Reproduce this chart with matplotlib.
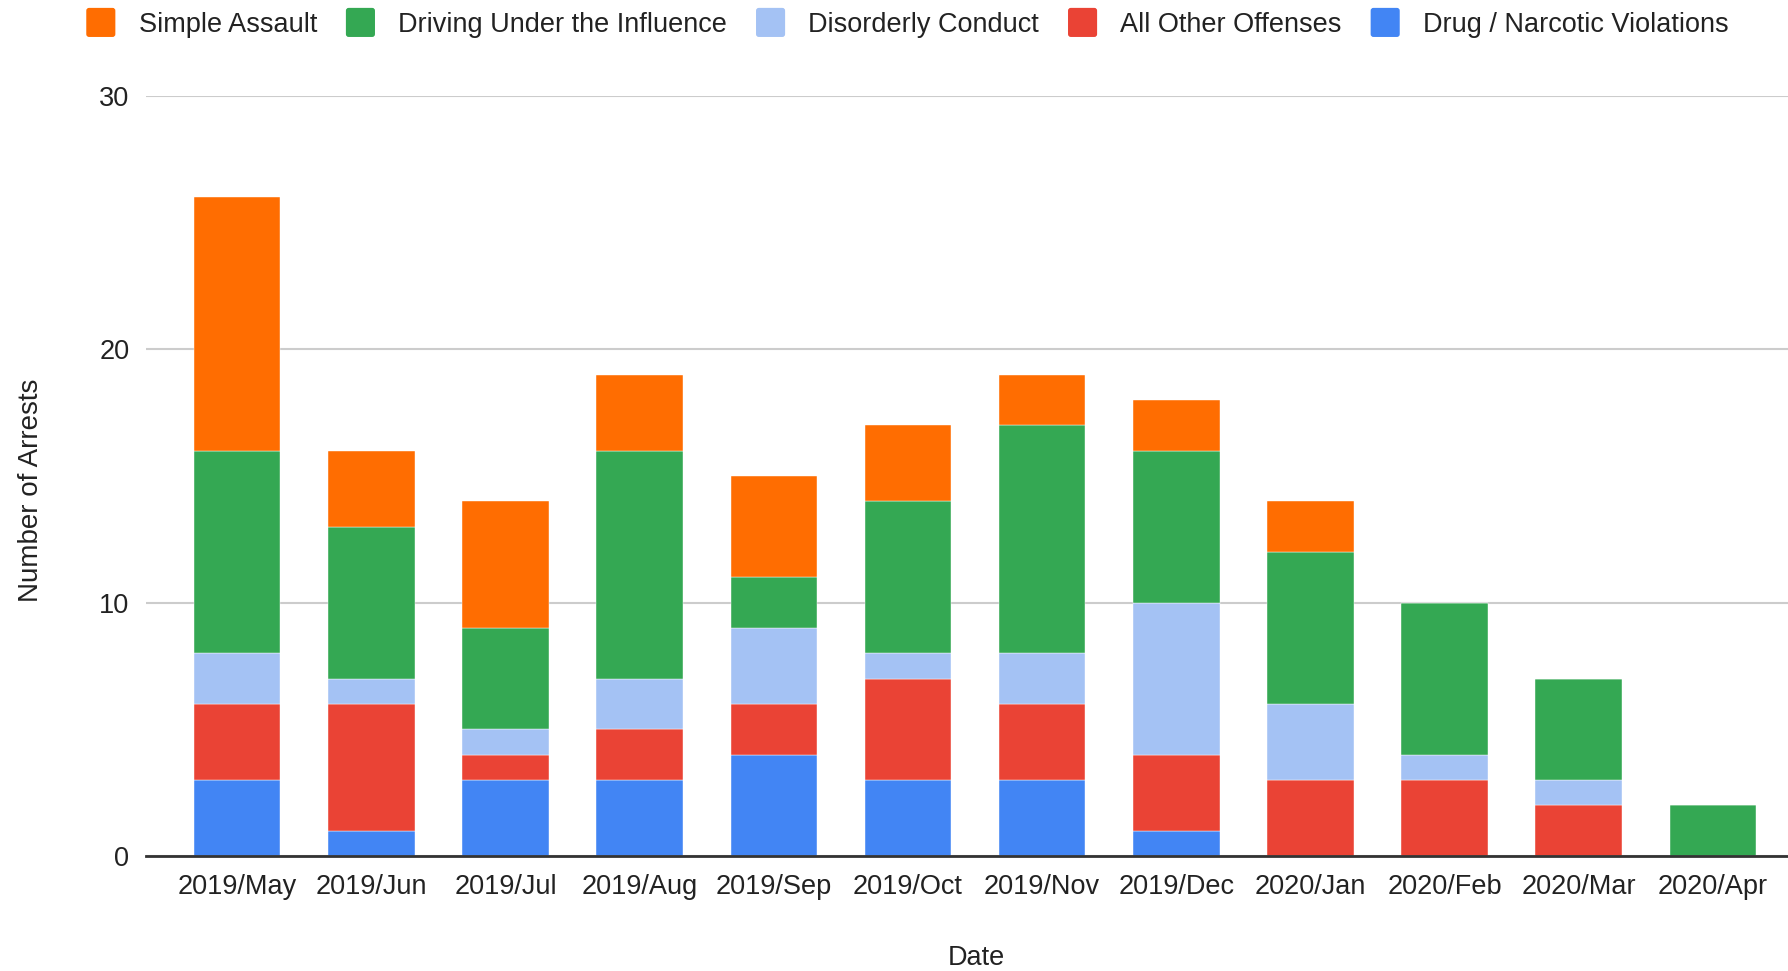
import matplotlib
matplotlib.use("Agg")
import matplotlib.pyplot as plt
import numpy as np
from matplotlib.patches import FancyBboxPatch
from matplotlib.legend_handler import HandlerPatch

plt.rcParams['font.family'] = ['Liberation Sans', 'DejaVu Sans']

months = ["2019/May", "2019/Jun", "2019/Jul", "2019/Aug", "2019/Sep", "2019/Oct",
          "2019/Nov", "2019/Dec", "2020/Jan", "2020/Feb", "2020/Mar", "2020/Apr"]
drug = [3, 1, 3, 3, 4, 3, 3, 1, 0, 0, 0, 0]
other = [3, 5, 1, 2, 2, 4, 3, 3, 3, 3, 2, 0]
disorderly = [2, 1, 1, 2, 3, 1, 2, 6, 3, 1, 1, 0]
dui = [8, 6, 4, 9, 2, 6, 9, 6, 6, 6, 4, 2]
assault = [10, 3, 5, 3, 4, 3, 2, 2, 2, 0, 0, 0]

series = [
    ("Drug / Narcotic Violations", drug, "#4285F4"),
    ("All Other Offenses", other, "#EA4335"),
    ("Disorderly Conduct", disorderly, "#A4C2F4"),
    ("Driving Under the Influence", dui, "#34A853"),
    ("Simple Assault", assault, "#FF6D01"),
]

FS = 19.5
W, H = 1788, 971
fig = plt.figure(figsize=(W / 100, H / 100), dpi=100)
ax = fig.add_axes([146 / W, 1 - 856 / H, (W - 146) / W, (856 - 96) / H])

x = np.arange(len(months))
bottom = np.zeros(len(months))
handles = {}
for name, vals, color in series:
    b = ax.bar(x, vals, width=0.645, bottom=bottom, color=color, linewidth=0.3,
               edgecolor="white", label=name, zorder=3)
    handles[name] = b
    bottom += np.array(vals)

ax.set_ylim(0, 30)
ax.set_xlim(-0.68, 11.56)
ax.set_yticks([0, 10, 20, 30])
ax.set_xticks(x)
ax.set_xticklabels(months)
ax.tick_params(axis='both', length=0, labelsize=FS, colors="#222222")
ax.tick_params(axis='y', pad=12)
ax.tick_params(axis='x', pad=13)
ax.grid(axis='y', color="#cccccc", linewidth=1.5, zorder=0)
for s in ["top", "right", "left"]:
    ax.spines[s].set_visible(False)
ax.spines["bottom"].set_color("#333333")
ax.spines["bottom"].set_linewidth(2)
ax.spines["bottom"].set_zorder(4)

fig.text(31 / W, 1 - 490 / H, "Number of Arrests", rotation=90, ha="center",
         va="center", fontsize=FS + 0.5, color="#222222")
fig.text(976 / W, 1 - 958 / H, "Date", ha="center", va="center", fontsize=FS,
         color="#222222")

class RoundHandler(HandlerPatch):
    def create_artists(self, legend, orig_handle, xdescent, ydescent, width,
                       height, fontsize, trans):
        c = orig_handle.patches[0].get_facecolor()
        s = min(width, height) * 1.2
        p = FancyBboxPatch((-xdescent + (width - s) / 2, -ydescent + (height - s) / 2),
                           s, s, boxstyle="round,pad=0,rounding_size=2",
                           facecolor=c, edgecolor="none", transform=trans)
        return [p]

order = ["Simple Assault", "Driving Under the Influence", "Disorderly Conduct",
         "All Other Offenses", "Drug / Narcotic Violations"]
hm = {handles[n]: RoundHandler() for n in order}
fig.legend([handles[n] for n in order], order, loc="center",
           bbox_to_anchor=(908 / W, 1 - 24 / H), ncol=5, frameon=False,
           fontsize=FS, handlelength=1.0, handleheight=1.0, handletextpad=0.9,
           columnspacing=1.1, handler_map=hm, labelcolor="#222222")

fig.savefig("out.png", dpi=100)
